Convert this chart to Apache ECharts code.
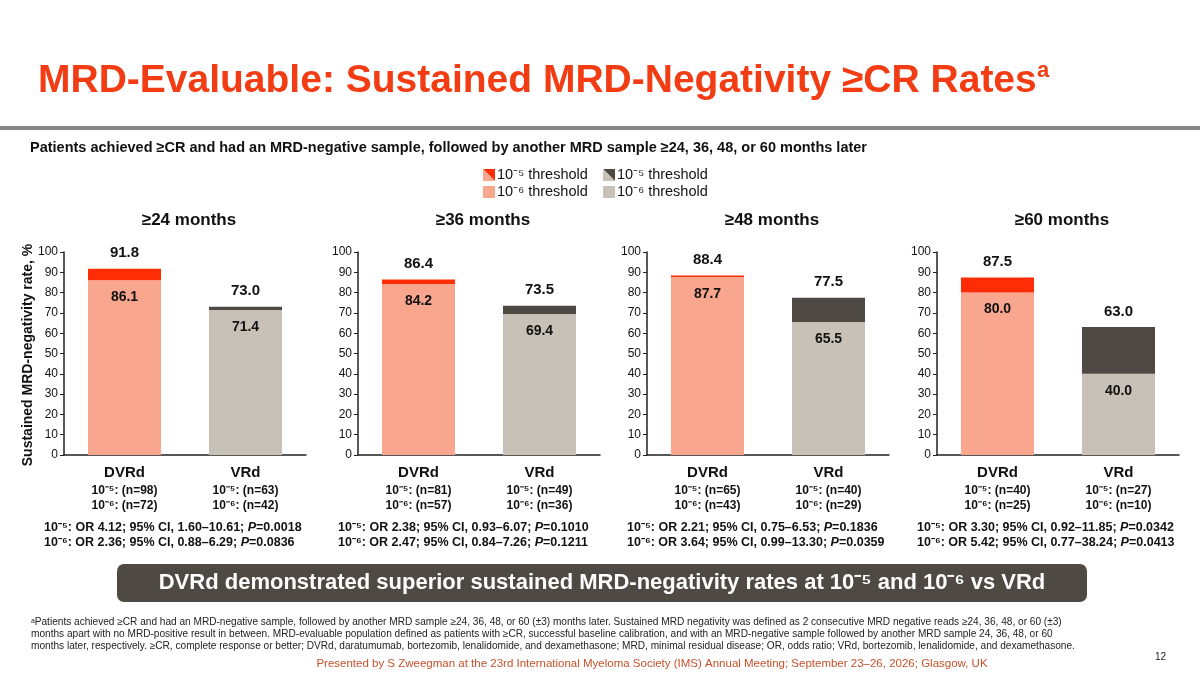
<!DOCTYPE html>
<html><head><meta charset="utf-8">
<script src="https://cdn.jsdelivr.net/npm/echarts@6/dist/echarts.min.js"></script>
<style>html,body{margin:0;padding:0;background:#fff}#c{width:1200px;height:675px}</style>
</head><body><div id="c"></div>
<script>
const panels = ['≥24 months','≥36 months','≥48 months','≥60 months'];
const categories = ['DVRd','VRd'];
const e6_DVRd = [86.1, 84.2, 87.7, 80.0];
const e5_DVRd = [91.8, 86.4, 88.4, 87.5];
const e6_VRd = [71.4, 69.4, 65.5, 40.0];
const e5_VRd = [73.0, 73.5, 77.5, 63.0];
const nDVRd5 = [98, 81, 65, 40], nDVRd6 = [72, 57, 43, 25];
const nVRd5 = [63, 49, 40, 27], nVRd6 = [42, 36, 29, 10];
const or5 = ['OR 4.12; 95% CI, 1.60–10.61; ','OR 2.38; 95% CI, 0.93–6.07; ','OR 2.21; 95% CI, 0.75–6.53; ','OR 3.30; 95% CI, 0.92–11.85; '];
const p5 = ['0.0018','0.1010','0.1836','0.0342'];
const or6 = ['OR 2.36; 95% CI, 0.88–6.29; ','OR 2.47; 95% CI, 0.84–7.26; ','OR 3.64; 95% CI, 0.99–13.30; ','OR 5.42; 95% CI, 0.77–38.24; '];
const p6 = ['0.0836','0.1211','0.0359','0.0413'];
const yTicks = [0,10,20,30,40,50,60,70,80,90,100];

const C = {d6:'#F9A68F', d5:'#FF2D05', v6:'#C8C1B8', v5:'#4F4943'};
const lefts = [64, 358, 647, 937];
const chart = echarts.init(document.getElementById('c'));
const grids=[], xAxes=[], yAxes=[], series=[], graphics=[];
const F = '"Liberation Sans"';
lefts.forEach((L,i)=>{
  grids.push({left:L, top:252, width:242, height:203});
  xAxes.push({type:'category', gridIndex:i, data:categories, axisTick:{show:false},
    axisLine:{lineStyle:{color:'#222',width:1.5}},
    axisLabel:{margin:8, interval:0, formatter:(v,idx)=>{
      const a = idx===0?[nDVRd5[i],nDVRd6[i]]:[nVRd5[i],nVRd6[i]];
      return '{h|'+v+'}\n{n|10⁻⁵: (n='+a[0]+')}\n{n|10⁻⁶: (n='+a[1]+')}';},
      rich:{h:{fontSize:15,fontWeight:'bold',color:'#111',fontFamily:'Liberation Sans',lineHeight:20},
            n:{fontSize:12,fontWeight:'bold',color:'#111',fontFamily:'Liberation Sans',lineHeight:15}}}});
  yAxes.push({type:'value', gridIndex:i, min:0, max:100, interval:10, splitLine:{show:false},
    axisLine:{show:true,lineStyle:{color:'#222',width:1.5}}, axisTick:{show:true,length:4,lineStyle:{color:'#222'}},
    axisLabel:{fontSize:12,color:'#111',fontFamily:'Liberation Sans',margin:6,customValues:yTicks}});
  const base = [ {value:e6_DVRd[i], itemStyle:{color:C.d6}}, {value:e6_VRd[i], itemStyle:{color:C.v6}} ];
  const top = [ {value:+(e5_DVRd[i]-e6_DVRd[i]).toFixed(1), itemStyle:{color:C.d5}, tot:e5_DVRd[i]},
                {value:+(e5_VRd[i]-e6_VRd[i]).toFixed(1), itemStyle:{color:C.v5}, tot:e5_VRd[i]} ];
  series.push({type:'bar', xAxisIndex:i, yAxisIndex:i, stack:'s'+i, barWidth:73, data:base,
    label:{show:true, position:'insideTop', distance:10, fontSize:14, fontWeight:'bold', color:'#111', fontFamily:'Liberation Sans',
      formatter:p=>p.value.toFixed(1)}});
  series.push({type:'bar', xAxisIndex:i, yAxisIndex:i, stack:'s'+i, barWidth:73, data:top,
    label:{show:true, position:'top', distance:8, fontSize:15, fontWeight:'bold', color:'#111', fontFamily:'Liberation Sans',
      formatter:p=>p.data.tot.toFixed(1)}});
  graphics.push({type:'text', x:L+125, y:220, style:{text:panels[i], font:'bold 17px '+F, fill:'#111', textAlign:'center', textVerticalAlign:'middle'}});
  graphics.push({type:'text', x:L-20, y:520, style:{
    text:'{b|10⁻⁵: '+or5[i]+'}{i|P}{b|='+p5[i]+'}\n{b|10⁻⁶: '+or6[i]+'}{i|P}{b|='+p6[i]+'}',
    rich:{b:{font:'bold 12.5px '+F, fill:'#111', lineHeight:15}, i:{font:'italic bold 12.5px '+F, fill:'#111', lineHeight:15}}}});
});
graphics.push(
  {type:'text', x:38, y:62, style:{text:'MRD-Evaluable: Sustained MRD-Negativity ≥CR Rates', font:'bold 39px '+F, fill:'#F23C14'}},
  {type:'text', x:1037, y:60, style:{text:'a', font:'bold 22px '+F, fill:'#F23C14'}},
  {type:'rect', shape:{x:0,y:126,width:1200,height:4}, style:{fill:'#8A8480'}},
  {type:'text', x:30, y:140, style:{text:'Patients achieved ≥CR and had an MRD-negative sample, followed by another MRD sample ≥24, 36, 48, or 60 months later', font:'bold 14.5px '+F, fill:'#111'}},
  {type:'polygon', shape:{points:[[483,169],[495,169],[495,181]]}, style:{fill:C.d5}},
  {type:'polygon', shape:{points:[[483,169],[483,181],[495,181]]}, style:{fill:'#F9A68F'}},
  {type:'text', x:497, y:167, style:{text:'10⁻⁵ threshold', font:'14.5px '+F, fill:'#111'}},
  {type:'rect', shape:{x:483,y:186,width:12,height:12}, style:{fill:C.d6}},
  {type:'text', x:497, y:184, style:{text:'10⁻⁶ threshold', font:'14.5px '+F, fill:'#111'}},
  {type:'polygon', shape:{points:[[603,169],[615,169],[615,181]]}, style:{fill:C.v5}},
  {type:'polygon', shape:{points:[[603,169],[603,181],[615,181]]}, style:{fill:C.v6}},
  {type:'text', x:617, y:167, style:{text:'10⁻⁵ threshold', font:'14.5px '+F, fill:'#111'}},
  {type:'rect', shape:{x:603,y:186,width:12,height:12}, style:{fill:C.v6}},
  {type:'text', x:617, y:184, style:{text:'10⁻⁶ threshold', font:'14.5px '+F, fill:'#111'}},
  {type:'text', x:28, y:355, rotation:Math.PI/2, style:{text:'Sustained MRD-negativity rate, %', font:'bold 14px '+F, fill:'#111', textAlign:'center', textVerticalAlign:'middle'}},
  {type:'rect', shape:{x:117,y:564,width:970,height:38,r:7}, style:{fill:'#4F4943'}},
  {type:'text', x:602, y:583, style:{text:'DVRd demonstrated superior sustained MRD-negativity rates at 10⁻⁵ and 10⁻⁶ vs VRd', font:'bold 22px '+F, fill:'#fff', textAlign:'center', textVerticalAlign:'middle'}},
  {type:'text', x:31, y:616, style:{text:'ᵃPatients achieved ≥CR and had an MRD-negative sample, followed by another MRD sample ≥24, 36, 48, or 60 (±3) months later. Sustained MRD negativity was defined as 2 consecutive MRD negative reads ≥24, 36, 48, or 60 (±3)\nmonths apart with no MRD-positive result in between. MRD-evaluable population defined as patients with ≥CR, successful baseline calibration, and with an MRD-negative sample followed by another MRD sample 24, 36, 48, or 60\nmonths later, respectively. ≥CR, complete response or better; DVRd, daratumumab, bortezomib, lenalidomide, and dexamethasone; MRD, minimal residual disease; OR, odds ratio; VRd, bortezomib, lenalidomide, and dexamethasone.', font:'10.1px '+F, fill:'#222', lineHeight:12}},
  {type:'text', x:652, y:664, style:{text:'Presented by S Zweegman at the 23rd International Myeloma Society (IMS) Annual Meeting; September 23–26, 2026; Glasgow, UK', font:'11.5px '+F, fill:'#C4512A', textAlign:'center', textVerticalAlign:'middle'}},
  {type:'text', x:1155, y:652, style:{text:'12', font:'10px '+F, fill:'#222'}}
);
chart.setOption({animation:false, grid:grids, xAxis:xAxes, yAxis:yAxes, series, graphic:graphics});
</script></body></html>
